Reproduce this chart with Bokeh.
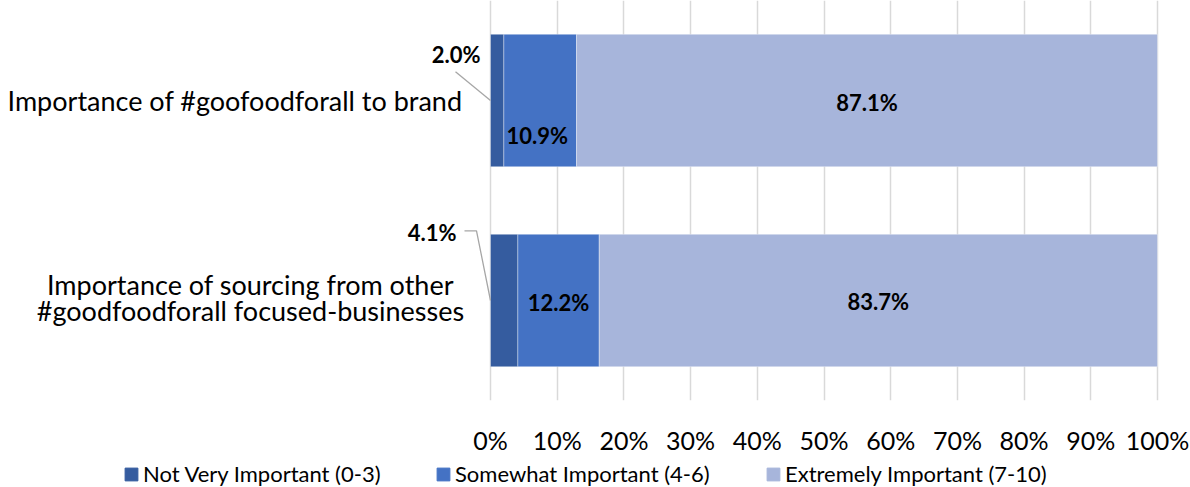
from bokeh.plotting import figure
from bokeh.layouts import column
from bokeh.models import (ColumnDataSource, Range1d, FixedTicker, Legend, LegendItem)
from bokeh.embed import file_html
from bokeh.resources import INLINE
from bokeh.core.properties import value

# ---------------- data ----------------
categories = ["Importance of #goofoodforall to brand",
              "Importance of sourcing from other\n#goodfoodforall focused-businesses"]
series_names = ["Not Very Important (0-3)", "Somewhat Important (4-6)", "Extremely Important (7-10)"]
not_very = [2.0, 4.1]
somewhat = [10.9, 12.2]
extremely = [87.1, 83.7]
tick_values = [0, 10, 20, 30, 40, 50, 60, 70, 80, 90, 100]
tick_labels = ["0%", "10%", "20%", "30%", "40%", "50%", "60%", "70%", "80%", "90%", "100%"]

# ---------------- style ----------------
W, H = 1190, 487
LEG_H = 30
PH = H - LEG_H
FRAME_H = 402
X0_PX = 490            # pixel of 0%
PX = 6.67              # pixels per percent
PY = FRAME_H / 2.0     # pixels per y unit
colors = ["#355C9F", "#4472C4", "#A7B5DB"]
FONT = value("Lato")
BAR_H = 0.662

label_offsets = {(0, 0): (-41, -46), (0, 1): (-72, -68), (1, 0): (-3, 35),
                 (1, 1): (0, 2), (2, 0): (0, 2), (2, 1): (0, 1)}
leader_paths = {(0, 0): [(-35, -29), (0, 0)],
                (0, 1): [(-26, -70), (-14, -70), (0, 0)]}
legend_x = [123, 435, 765]

p = figure(width=W, height=PH, output_backend="svg", toolbar_location=None,
           x_range=Range1d(-X0_PX / PX, (W - X0_PX) / PX),
           y_range=Range1d(0, 2), y_axis_location=None,
           min_border_left=0, min_border_right=0, min_border_top=0,
           min_border_bottom=PH - FRAME_H)
p.outline_line_color = None
p.background_fill_color = "white"
p.border_fill_color = "white"

n = len(categories)
ys = [n - 0.5 - i for i in range(n)]
src = ColumnDataSource(dict(y=ys, nv=not_very, sw=somewhat, ex=extremely))
renderers = p.hbar_stack(["nv", "sw", "ex"], y="y", height=BAR_H, color=colors,
                         line_color="white", line_width=0.6, line_alpha=0.6, source=src)

# axis
p.xaxis.ticker = FixedTicker(ticks=tick_values)
p.xaxis.major_label_overrides = {v: l for v, l in zip(tick_values, tick_labels)}
p.xaxis.axis_line_color = None
p.xaxis.major_tick_line_color = None
p.xaxis.minor_tick_line_color = None
p.xaxis.major_label_text_font = "Lato"
p.xaxis.major_label_text_font_size = "25px"
p.xaxis.major_label_text_color = "#000000"
p.xaxis.major_label_standoff = 18
p.xgrid.grid_line_color = "#D9D9D9"
p.xgrid.grid_line_width = 1.5
p.ygrid.grid_line_color = None

# category labels
CAT_SIZE = "27px"
cat_x_right = (462 - X0_PX) / PX
for i, cat in enumerate(categories):
    lines = cat.split("\n")
    if len(lines) == 1:
        p.text(x=[cat_x_right], y=[ys[i]], text=[lines[0]], text_font=FONT,
               text_font_size=CAT_SIZE, text_align="right", text_baseline="middle",
               text_color="#000000")
    else:
        cx = (250 - X0_PX) / PX
        lh = 26
        for k, ln in enumerate(lines):
            dy = (k - (len(lines) - 1) / 2) * lh - 3
            p.text(x=[cx], y=[ys[i]], text=[ln], text_font=FONT, text_font_size=CAT_SIZE,
                   text_align="center", text_baseline="middle", y_offset=dy,
                   text_color="#000000")

# data labels
series = [not_very, somewhat, extremely]
for i in range(n):
    start = 0.0
    for j, s in enumerate(series):
        v = s[i]
        cx = start + v / 2
        dx, dy = label_offsets.get((j, i), (0, 0))
        p.text(x=[cx], y=[ys[i]], text=[f"{v:.1f}%"], text_font=FONT,
               text_font_size="22px", text_font_style="bold", text_align="center",
               text_baseline="middle", x_offset=dx, y_offset=dy, text_color="#000000")
        if (j, i) in leader_paths:
            pts = leader_paths[(j, i)]
            lx = [start + ox / PX for ox, oy in pts]
            ly = [ys[i] - oy / PY for ox, oy in pts]
            p.line(lx, ly, line_color="#A6A6A6", line_width=1.3)
        start += v

# legend strip (separate figure so nothing is clipped)
lf = figure(width=W, height=LEG_H, output_backend="svg", toolbar_location=None,
            x_range=Range1d(0, 1), y_range=Range1d(0, 1),
            x_axis_location=None, y_axis_location=None,
            min_border=0)
lf.outline_line_color = None
lf.xgrid.grid_line_color = None
lf.ygrid.grid_line_color = None
# legend swatches only: an off-screen, zero-width bar per series
lsrc = ColumnDataSource(dict(y=[-10], l=[0], r=[0]))
for k, (c, name) in enumerate(zip(colors, series_names)):
    rr = lf.hbar(y="y", left="l", right="r", height=0.5, color=c, source=lsrc)
    lg = Legend(items=[LegendItem(label=name, renderers=[rr])],
                location=(legend_x[k], 0), orientation="horizontal",
                padding=0, margin=0, spacing=0,
                glyph_width=16, glyph_height=16, label_standoff=4,
                label_text_font="Lato", label_text_font_size="22px",
                label_text_color="#000000", label_height=16,
                border_line_color=None, background_fill_alpha=0)
    lf.add_layout(lg, "center")

layout = column(p, lf, spacing=0)
open("out.html", "w").write(file_html(layout, INLINE))
